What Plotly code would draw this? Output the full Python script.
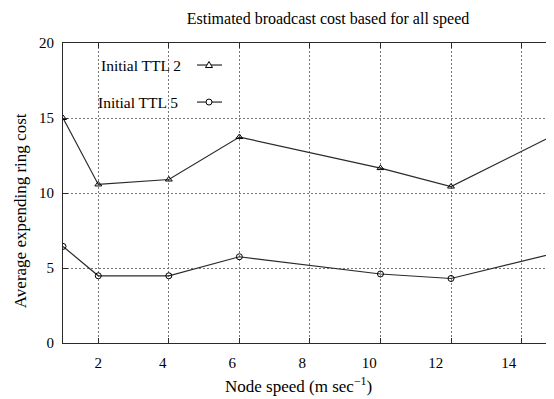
import plotly.graph_objects as go

# ---- data ----
speed = [1, 2, 4, 6, 10, 12, 15]
ttl2 = [15.0, 10.57, 10.9, 13.73, 11.66, 10.43, 13.95]
ttl5 = [6.44, 4.48, 4.48, 5.75, 4.6, 4.3, 6.02]
series_names = ["Initial TTL 2", "Initial TTL 5"]
x_ticks = [2, 4, 6, 8, 10, 12, 14]
x_tick_labels = ["2", "4", "6", "8", "10", "12", "14"]
# label positions drift slightly left of their gridlines in the reference
x_label_pos = [2.0, 3.83, 5.8, 7.78, 9.68, 11.57, 13.64]
y_ticks = [0, 5, 10, 15, 20]

FONT = "Liberation Serif"
LINE = "#2a2a2a"
GRID = "#777777"

fig = go.Figure()
fig.add_trace(go.Scatter(
    x=speed, y=ttl2, mode="lines+markers", name=series_names[0],
    line=dict(color=LINE, width=1.2),
    marker=dict(symbol="triangle-up-open", size=6, color="black", line=dict(width=1)),
    showlegend=False, cliponaxis=True))
fig.add_trace(go.Scatter(
    x=speed, y=ttl5, mode="lines+markers", name=series_names[1],
    line=dict(color=LINE, width=1.2),
    marker=dict(symbol="circle-open", size=6, color="black", line=dict(width=1)),
    showlegend=False, cliponaxis=True))
# empty trace so the label axis is drawn
fig.add_trace(go.Scatter(x=[], y=[], xaxis="x2", showlegend=False, hoverinfo="skip"))

# page geometry (the page body adds an 8px offset)
OFF = 8
W, H = 554 - OFF, 399 - OFF
PL, PT, PB, PR = 63, 43, 342.7, 554   # plot area in page pixels
L, T, R = PL - OFF, PT - OFF, 0
B = H - (PB - OFF)
def px(x):
    return (x - PL) / (PR - PL)
def py(y):
    return (PB - y) / (PB - PT)

shapes = []
# white box hiding gridlines behind legend
shapes.append(dict(type="rect", xref="paper", yref="paper",
                   x0=px(81), x1=px(203), y0=py(128), y1=py(48),
                   fillcolor="white", line=dict(width=0), layer="between"))
annotations = []
for i, (name, yc, xr) in enumerate([(series_names[0], 65, 183), (series_names[1], 102, 180)]):
    annotations.append(dict(text=name, x=px(xr), y=py(yc), xref="paper", yref="paper",
                            xanchor="right", yanchor="middle", showarrow=False,
                            font=dict(family=FONT, size=15.5, color="black")))
    shapes.append(dict(type="line", xref="paper", yref="paper",
                       x0=px(197), x1=px(222), y0=py(yc), y1=py(yc),
                       line=dict(color=LINE, width=1.2)))
    cx, cy = 209, yc
    if i == 0:
        path = f"M {px(cx-3.5)} {py(cy+2.5)} L {px(cx+3.5)} {py(cy+2.5)} L {px(cx)} {py(cy-3.5)} Z"
        shapes.append(dict(type="path", xref="paper", yref="paper", path=path,
                           fillcolor="white", line=dict(color="black", width=1)))
    else:
        shapes.append(dict(type="circle", xref="paper", yref="paper",
                           x0=px(cx-3), x1=px(cx+3), y0=py(cy+3), y1=py(cy-3),
                           fillcolor="white", line=dict(color="black", width=1)))

# axis titles placed as annotations to match the reference's position
annotations.append(dict(text="Average expending ring cost", textangle=-90,
                        x=px(20), y=py(211), xref="paper", yref="paper",
                        xanchor="center", yanchor="middle", showarrow=False,
                        font=dict(family=FONT, size=17, color="black")))
annotations.append(dict(text="Node speed (m sec<sup>\u22121</sup>)",
                        x=px(298), y=py(398), xref="paper", yref="paper",
                        xanchor="center", yanchor="bottom", showarrow=False,
                        font=dict(family=FONT, size=17, color="black")))

fig.update_layout(
    template="none",
    width=W, height=H,
    margin=dict(l=L, r=R, t=T, b=B, autoexpand=False, pad=0),
    paper_bgcolor="white", plot_bgcolor="white",
    font=dict(family=FONT, size=15, color="black"),
    title=dict(text="Estimated broadcast cost based for all speed",
               x=(328 - OFF) / W, xanchor="center", y=1 - (18 - OFF) / H, yanchor="middle",
               font=dict(family=FONT, size=16, color="black")),
    shapes=shapes, annotations=annotations,
    xaxis=dict(range=[1, 14.92], tickvals=x_ticks, showticklabels=False,
               automargin=False,
               showline=True, linecolor=LINE, linewidth=1.2, mirror="ticks",
               ticks="inside", ticklen=5, tickcolor=LINE,
               showgrid=True, gridcolor=GRID, griddash="2px,2px", gridwidth=1,
               zeroline=False),
    xaxis2=dict(range=[1, 14.92], overlaying="x", anchor="y", side="bottom",
                tickvals=x_label_pos, ticktext=x_tick_labels,
                automargin=False, showline=False, showgrid=False, zeroline=False,
                ticks="", ticklabelstandoff=9,
                tickfont=dict(family=FONT, size=15, color="black")),
    yaxis=dict(range=[0, 20], tickvals=y_ticks, ticktext=[str(v) for v in y_ticks],
               automargin=False,
               showline=True, linecolor=LINE, linewidth=1.2,
               ticks="inside", ticklen=5, tickcolor=LINE, ticklabelstandoff=5,
               showgrid=True, gridcolor=GRID, griddash="2px,2px", gridwidth=1,
               zeroline=False,
               tickfont=dict(family=FONT, size=15, color="black")),
)

fig.write_html("out.html")
